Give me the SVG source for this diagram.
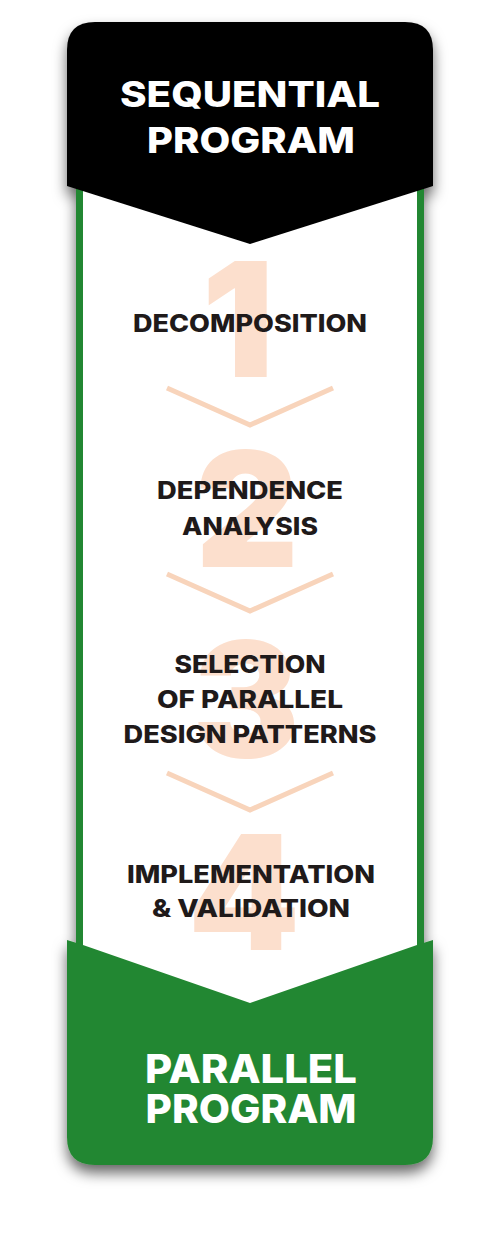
<svg xmlns="http://www.w3.org/2000/svg" width="500" height="1240" viewBox="0 0 500 1240">
  <defs>
    <filter id="shadow" x="-20%" y="-10%" width="140%" height="120%">
      <feDropShadow dx="0" dy="8" stdDeviation="7" flood-color="#000" flood-opacity="0.6"/>
    </filter>
    <style>
      .t { font-family: Inter, "Open Sans", "DejaVu Sans", sans-serif; font-weight: 800; text-anchor: middle; }
      .head { fill: #ffffff; font-size: 35px; }
      .foot { fill: #ffffff; font-size: 39px; }
      .step { fill: #1f1a1a; font-size: 24px; }
      .num { font-family: Inter, "Open Sans", "DejaVu Sans", sans-serif; font-weight: 900; font-size: 160px; fill: #fcdfcd; text-anchor: middle; }
      .chev { fill: none; stroke: #f8d4bb; stroke-width: 5; }
    </style>
  </defs>
  <rect width="500" height="1240" fill="#ffffff"/>

  <g id="frame" filter="url(#shadow)">
    <rect x="76" y="180" width="348" height="830" fill="#238731"/>
    <rect x="83" y="180" width="334" height="830" fill="#ffffff"/>
    <path id="start-shape" d="M67,50 Q67,22 95,22 L405,22 Q433,22 433,50 L433,186 L250,244 L67,186 Z" fill="#000000"/>
    <path id="end-shape" d="M67,940 L83,945 L250,1003 L417,945 L433,940 L433,1137 Q433,1165 405,1165 L95,1165 Q67,1165 67,1137 Z" fill="#238731"/>
  </g>

  <g id="connectors">
    <polyline class="chev" points="167,388 250,425 333,388"/>
    <polyline class="chev" points="167,574 250,611 333,574"/>
    <polyline class="chev" points="167,773 250,810 333,773"/>
  </g>

  <g id="start">
    <text class="t head" x="250" y="107" textLength="260" lengthAdjust="spacingAndGlyphs">SEQUENTIAL</text>
    <text class="t head" x="251" y="153" textLength="208" lengthAdjust="spacingAndGlyphs">PROGRAM</text>
  </g>

  <g id="step1">
    <text class="num" x="238" y="377">1</text>
    <text class="t step" x="250" y="332" textLength="234" lengthAdjust="spacingAndGlyphs">DECOMPOSITION</text>
  </g>

  <g id="step2">
    <text class="num" x="247" y="567">2</text>
    <text class="t step" x="250" y="499" textLength="186" lengthAdjust="spacingAndGlyphs">DEPENDENCE</text>
    <text class="t step" x="250" y="535" textLength="136" lengthAdjust="spacingAndGlyphs">ANALYSIS</text>
  </g>

  <g id="step3">
    <text class="num" x="246" y="757">3</text>
    <text class="t step" x="250" y="673" textLength="151" lengthAdjust="spacingAndGlyphs">SELECTION</text>
    <text class="t step" x="250" y="708" textLength="186" lengthAdjust="spacingAndGlyphs">OF PARALLEL</text>
    <text class="t step" x="250" y="743" textLength="253" lengthAdjust="spacingAndGlyphs">DESIGN PATTERNS</text>
  </g>

  <g id="step4">
    <text class="num" x="244" y="950">4</text>
    <text class="t step" x="251" y="883" textLength="248" lengthAdjust="spacingAndGlyphs">IMPLEMENTATION</text>
    <text class="t step" x="251" y="917" textLength="198" lengthAdjust="spacingAndGlyphs">&amp; VALIDATION</text>
  </g>

  <g id="end">
    <text class="t foot" x="251" y="1083" textLength="212" lengthAdjust="spacingAndGlyphs">PARALLEL</text>
    <text class="t foot" x="251" y="1123" textLength="211" lengthAdjust="spacingAndGlyphs">PROGRAM</text>
  </g>
</svg>
